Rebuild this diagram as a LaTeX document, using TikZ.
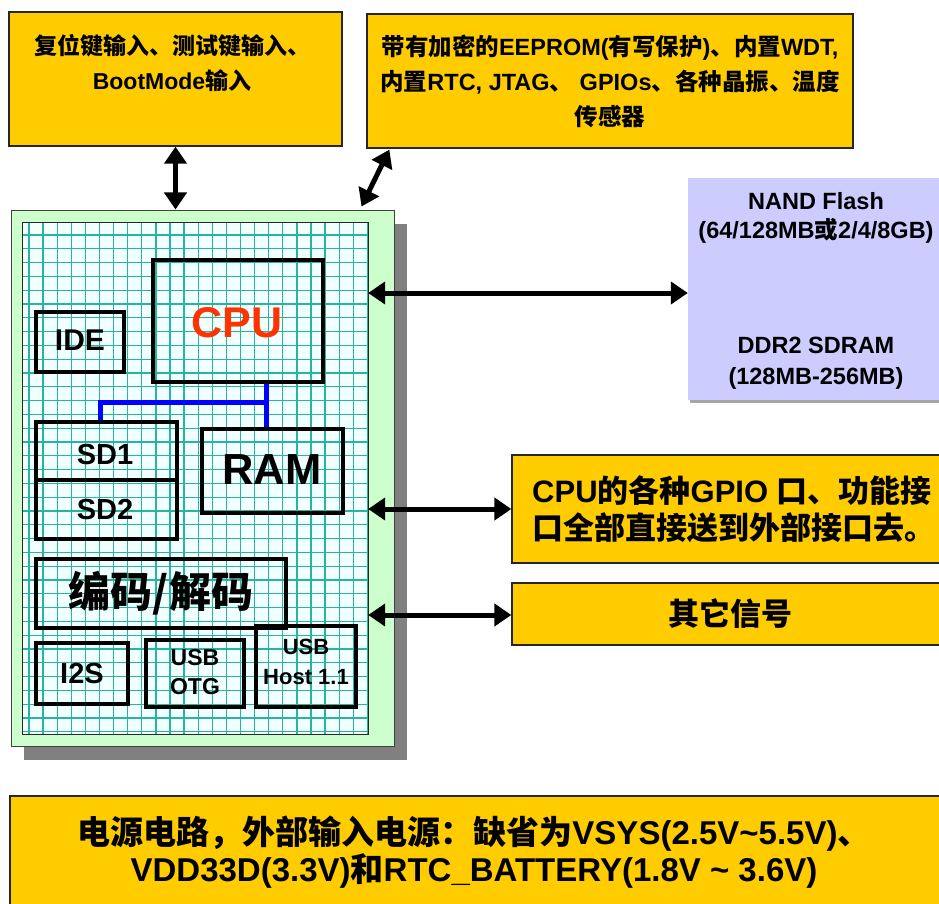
\documentclass[tikz,border=0pt]{standalone}
\usepackage{fontspec}
\setmainfont{Liberation Sans}
\newfontfamily\cjk{Noto Sans CJK SC}
\usetikzlibrary{arrows.meta,calc,fit}
\newcommand\zh[1]{{\cjk #1}}
\newcommand\fsz[2]{\fontsize{#1}{#2}\selectfont}
\definecolor{gold}{HTML}{FFCC00}
\definecolor{lav}{HTML}{CCCCFF}
\definecolor{chipgreen}{HTML}{CCFFCC}
\definecolor{gridbg}{HTML}{F2FFFF}
\definecolor{gridln}{HTML}{28B49E}
\definecolor{shadowgray}{HTML}{808080}
\definecolor{cpured}{HTML}{FF3300}
\begin{document}
\begin{tikzpicture}[x=1pt,y=-1pt,
  goldbox/.style={draw=black!85, line width=1.3pt, fill=gold, inner sep=0pt},
  lavbox/.style={fill=lav, inner sep=0pt},
  comp/.style={draw=black, line width=3.4pt, inner sep=0pt},
  txt/.style={inner sep=0pt, align=center, font=\bfseries},
  dbl/.style={{Triangle[length=17pt,width=22pt]}-{Triangle[length=17pt,width=22pt]}, line width=5pt, black},
  bus/.style={draw=blue, line width=5pt},
  gl/.style={draw=gridln, line width=1.3pt}]
\useasboundingbox (0,0) rectangle (939,904);
\fill[white] (0,0) rectangle (939,904);

% top boxes
\node[goldbox, fit={(9,12)(342,146)}] (tl) {};
\node[txt, font=\bfseries\fsz{23}{35}] (tlt) at (172,63) {\zh{复位键输入、测试键输入、}\\BootMode\zh{输入}};
\node[goldbox, fit={(367,14)(853,148)}] (tr) {};
\node[txt, font=\bfseries\fsz{23.5}{35}] (trt) at (610,81) {\zh{带有加密的}EEPROM(\zh{有写保护})\zh{、内置}WDT,\\\zh{内置}RTC, JTAG\zh{、} GPIOs\zh{、各种晶振、温度}\\\zh{传感器}};

% chip
\fill[shadowgray] (24,224) rectangle (407,760);
\node[fit={(11,210)(394,746)}, fill=chipgreen, draw=black!75, line width=1pt, inner sep=0pt] (chip) {};
\node[fit={(23,223)(368,734)}, fill=gridbg, inner sep=0pt] (grid) {};
\begin{scope}
  \clip (23,223) rectangle (368,734);
  \foreach \i in {0,...,24} \draw[gl] (29+14.1*\i,223) -- (29+14.1*\i,734);
  \foreach \j in {0,...,36} \draw[gl] (23,235+13.8*\j) -- (368,235+13.8*\j);
\end{scope}
\draw[black!85, line width=1.2pt] (grid.north west) rectangle (grid.south east);

% components
\node[comp, fit={(153,260)(323,382)}] (cpu) {};
\node[txt, text=cpured, font=\bfseries\fsz{43}{43}] at (237,323) {CPU};
\node[comp, fit={(36,312)(124,372)}] (ide) {};
\node[txt, font=\bfseries\fsz{30}{30}] at (80,340) {IDE};
\node[comp, fit={(36,422)(177,539)}] (sd) {};
\draw[black, line width=3.4pt] (sd.west |- 0,480) -- (sd.east |- 0,480);
\node[txt, font=\bfseries\fsz{29}{29}] at (105,455) {SD1};
\node[txt, font=\bfseries\fsz{29}{29}] at (105,510) {SD2};
\node[comp, fit={(202,429)(343,513)}] (ram) {};
\node[txt, font=\bfseries\fsz{43.5}{43.5}] at (272,470) {RAM};
\node[comp, fit={(36,559)(286,628)}] (codec) {};
\node[txt, font=\bfseries\fsz{42}{42}] at (161,593) {\zh{编码/解码}};
\node[comp, fit={(36,643)(128,704)}] (i2s) {};
\node[txt, font=\bfseries\fsz{29}{29}] at (82,674) {I2S};
\node[comp, fit={(146,640)(244,707)}] (otg) {};
\node[txt, font=\bfseries\fsz{23}{29}] at (195,672) {USB\\OTG};
\node[comp, fit={(256,626)(356,707)}] (host) {};
\node[txt, font=\bfseries\fsz{22}{30}] at (306,662) {USB\\Host 1.1};

% bus
\coordinate (j) at (266,402);
\coordinate (k) at (100,402);
\draw[bus] (j |- cpu.south) -- (j |- ram.north);
\draw[bus] (j) -- (k) -- (k |- sd.north);

% right boxes
\fill[black!35] (690,400) rectangle (945,403);
\node[lavbox, fit={(688,178)(945,400)}] (nand) {};
\node[txt, font=\bfseries\fsz{23.5}{29}] at (816,218) {NAND Flash\\(64/128MB\zh{或}2/4/8GB)};
\node[txt, font=\bfseries\fsz{23.5}{31}] at (816,363) {DDR2 SDRAM\\(128MB-256MB)};
\node[goldbox, fit={(512,455)(945,563)}] (gpio) {};
\node[txt, align=left, anchor=west, font=\bfseries\fsz{31}{37}] at (532,509) {CPU\zh{的各种}GPIO \zh{口、功能接}\\\zh{口全部直接送到外部接口去。}};
\node[goldbox, fit={(512,583)(945,645)}] (other) {};
\node[txt, font=\bfseries\fsz{31}{31}] at (730,614) {\zh{其它信号}};

% bottom box
\node[goldbox, fit={(10,796)(945,912)}] (pwr) {};
\node[txt, font=\bfseries\fsz{33}{37}] at (474,852) {\zh{电源电路，外部输入电源：缺省为}VSYS(2.5V\textasciitilde5.5V)\zh{、}\\VDD33D(3.3V)\zh{和}RTC\_BATTERY(1.8V \textasciitilde{} 3.6V)};

% arrows
\draw[dbl] (tl.south) -- (tl.south |- chip.north);
\draw[dbl] ($(tr.south west)+(23,1)$) -- ($(chip.north east)+(-33,-3)$);
\draw[dbl] ($(nand.west)+(0,4)$) coordinate (n1) -- (n1 -| grid.east);
\draw[dbl] (gpio.west) -- (gpio.west -| grid.east);
\draw[dbl] ($(other.west)+(0,1)$) coordinate (o1) -- (o1 -| grid.east);
\end{tikzpicture}
\end{document}
